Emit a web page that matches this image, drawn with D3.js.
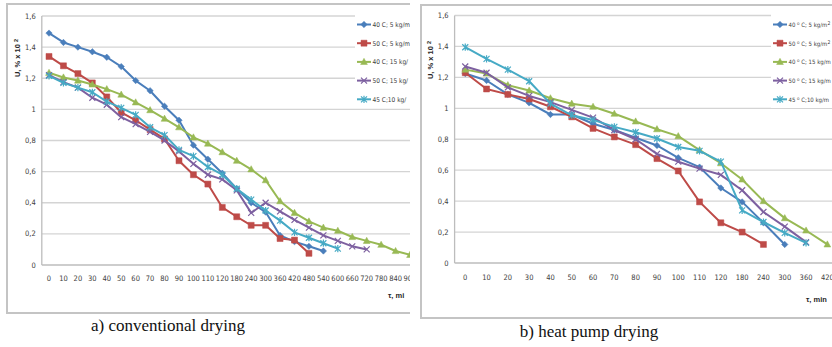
<!DOCTYPE html>
<html>
<head>
<meta charset="utf-8">
<script src="https://cdn.jsdelivr.net/npm/d3@7"></script>
<style>
    body { margin: 0; background: #fff; }
    svg { display: block; }
    .tick-label { font-family: "Liberation Sans Narrow", "DejaVu Sans", sans-serif; font-stretch: condensed; font-size: 7.5px; fill: #404040; }
    .legend-label { font-family: "Liberation Sans Narrow", "DejaVu Sans", sans-serif; font-stretch: condensed; font-size: 6.5px; fill: #404040; }
    .axis-title { font-family: "Liberation Sans", sans-serif; font-size: 7.5px; font-weight: bold; fill: #262626; }
    .caption { font-family: "Liberation Serif", "Times New Roman", serif; font-size: 17px; fill: #111; }
</style>
</head>
<body>
<svg id="chart" width="832" height="347"></svg>
<script>
/*globals d3 */

// a) conventional drying
var convTimes = [0, 10, 20, 30, 40, 50, 60, 70, 80, 90, 100, 110, 120,
    180, 240, 300, 360, 420, 480, 540, 600, 660, 720, 780, 840, 900];
var conv40c5 = [1.49, 1.43, 1.40, 1.37, 1.335, 1.275, 1.185, 1.12, 1.02, 0.93, 0.77, 0.68, 0.59,
    0.49, 0.40, 0.34, 0.19, 0.15, 0.12, 0.09];
var conv50c5 = [1.34, 1.28, 1.23, 1.17, 1.08, 0.98, 0.93, 0.87, 0.81, 0.67, 0.58, 0.52, 0.37,
    0.31, 0.255, 0.255, 0.17, 0.16, 0.075];
var conv40c15 = [1.235, 1.205, 1.185, 1.16, 1.13, 1.095, 1.045, 0.995, 0.94, 0.885, 0.82, 0.78, 0.725,
    0.67, 0.615, 0.545, 0.41, 0.335, 0.28, 0.24, 0.22, 0.18, 0.155, 0.13, 0.09, 0.065];
var conv50c15 = [1.22, 1.175, 1.14, 1.075, 1.03, 0.95, 0.905, 0.855, 0.80, 0.73, 0.65, 0.58, 0.55,
    0.48, 0.335, 0.40, 0.345, 0.29, 0.24, 0.19, 0.155, 0.12, 0.10];
var conv45c10 = [1.215, 1.17, 1.14, 1.11, 1.05, 1.01, 0.965, 0.885, 0.835, 0.74, 0.70, 0.63, 0.58,
    0.49, 0.42, 0.35, 0.285, 0.21, 0.175, 0.14, 0.105];

// b) heat pump drying
var hpTimes = [0, 10, 20, 30, 40, 50, 60, 70, 80, 90, 100, 110, 120, 180, 240, 300, 360, 420];
var hp40c5 = [1.225, 1.18, 1.09, 1.035, 0.96, 0.96, 0.90, 0.86, 0.81, 0.76, 0.68, 0.62, 0.485,
    0.395, 0.26, 0.12];
var hp50c5 = [1.23, 1.125, 1.09, 1.06, 1.01, 0.945, 0.87, 0.815, 0.765, 0.675, 0.595, 0.395, 0.26,
    0.20, 0.12];
var hp40c15 = [1.25, 1.225, 1.15, 1.115, 1.065, 1.03, 1.01, 0.965, 0.915, 0.865, 0.82, 0.73, 0.645,
    0.54, 0.40, 0.29, 0.21, 0.12];
var hp50c15 = [1.27, 1.23, 1.135, 1.08, 1.04, 0.99, 0.94, 0.86, 0.80, 0.705, 0.655, 0.61, 0.57,
    0.47, 0.33, 0.235, 0.135];
var hp45c10 = [1.395, 1.32, 1.25, 1.175, 1.03, 0.955, 0.925, 0.88, 0.845, 0.805, 0.75, 0.725, 0.655,
    0.34, 0.265, 0.195, 0.13];

var yTicks = [0, 0.2, 0.4, 0.6, 0.8, 1, 1.2, 1.4, 1.6];
// legend texts as far as the cropped original shows them
var convLegend = ["40 C; 5 kg/m", "50 C; 5 kg/m", "40 C; 15 kg/", "50 C; 15 kg/", "45 C;10 kg/"];
var hpLegend = [["40", " C; 5 kg/m", "2"], ["50", " C; 5 kg/m", "2"], ["40", " C; 15 kg/m", ""],
    ["50", " C; 15 kg/m", ""], ["45", " C;10 kg/m", ""]];
var colors = ["#4a7ebb", "#be4b48", "#98b954", "#7d60a0", "#46aac5"];
var markers = ["diamond", "square", "triangle", "times", "asterisk"];

var svg = d3.select("#chart");

function markerPath(kind) {
    var s = 3.2;
    switch (kind) {
    case "diamond":
        return "M0," + (-s) + "L" + s + ",0L0," + s + "L" + (-s) + ",0Z";
    case "square":
        return "M-3,-3H3V3H-3Z";
    case "triangle":
        return "M0,-3.6L3.4,2.6H-3.4Z";
    case "times":
        return "M-3,-3L3,3M-3,3L3,-3";
    default:
        return "M-3,-3L3,3M-3,3L3,-3M0,-3.6V3.6";
    }
}

function fmt(d) {
    return String(+d.toFixed(1)).replace(".", ",");
}

function drawPanel(cfg) {
    var g = svg.append("g"),
        clipId = "clip" + cfg.id,
        x,
        y,
        plot;

    svg.append("clipPath").attr("id", clipId)
        .append("rect")
        .attr("x", cfg.frame[0]).attr("y", cfg.frame[1])
        .attr("width", cfg.frame[2] - cfg.frame[0]).attr("height", cfg.frame[3] - cfg.frame[1]);

    g.attr("clip-path", "url(#" + clipId + ")");

    x = d3.scalePoint()
        .domain(cfg.times)
        .range([cfg.left, cfg.left + cfg.band * cfg.times.length])
        .padding(0.5);
    y = d3.scaleLinear().domain([0, 1.6]).range([cfg.bottom, cfg.top]);

    // Gridlines.
    g.selectAll(".grid")
        .data(yTicks.slice(1))
        .enter().append("line")
        .attr("x1", cfg.left).attr("x2", cfg.frame[2])
        .attr("y1", function (d) { return y(d); })
        .attr("y2", function (d) { return y(d); })
        .style("stroke", "#d4d4d4")
        .style("stroke-width", 1.3);

    // Axis lines.
    g.append("line")
        .attr("x1", cfg.left).attr("x2", cfg.frame[2])
        .attr("y1", y(0)).attr("y2", y(0))
        .style("stroke", "#bdbdbd").style("stroke-width", 1.5);
    g.append("line")
        .attr("x1", cfg.left).attr("x2", cfg.left)
        .attr("y1", y(0)).attr("y2", y(1.6))
        .style("stroke", "#bdbdbd").style("stroke-width", 1.3);

    // Tick labels.
    g.selectAll(".ylab")
        .data(yTicks)
        .enter().append("text")
        .attr("class", "tick-label")
        .attr("x", cfg.left - 6)
        .attr("y", function (d) { return y(d) + 2.5; })
        .attr("text-anchor", "end")
        .text(fmt);

    g.selectAll(".xlab")
        .data(cfg.times)
        .enter().append("text")
        .attr("class", "tick-label")
        .attr("x", function (d) { return x(d); })
        .attr("y", cfg.xLabelY)
        .attr("text-anchor", "middle")
        .text(function (d) { return d; });

    // Axis titles.
    g.append("text")
        .attr("class", "axis-title")
        .attr("transform", "translate(" + cfg.yTitleX + "," + cfg.yTitleY + ") rotate(-90)")
        .attr("text-anchor", "middle")
        .text("U, % x 10 ")
        .append("tspan").attr("dy", -2).style("font-size", "5.5px").text("2");

    g.append("text")
        .attr("class", "axis-title")
        .attr("x", cfg.xTitle[0]).attr("y", cfg.xTitle[1])
        .text(cfg.xTitleText);

    // Series.
    plot = g.append("g");
    cfg.series.forEach(function (values, k) {
        var pts = values.map(function (v, i) {
            return [x(cfg.times[i]), y(v)];
        });

        plot.append("path")
            .attr("d", d3.line()(pts))
            .style("fill", "none")
            .style("stroke", colors[k])
            .style("stroke-width", 2)
            .style("stroke-linejoin", "round");

        plot.selectAll(".m" + k)
            .data(pts)
            .enter().append("path")
            .attr("transform", function (p) { return "translate(" + p[0] + "," + p[1] + ")"; })
            .attr("d", markerPath(markers[k]))
            .style("fill", colors[k])
            .style("stroke", colors[k])
            .style("stroke-width", markers[k] === "times" || markers[k] === "asterisk" ? 1.2 : 0.5);
    });

    // Legend.
    g.append("rect")
        .attr("x", cfg.legend[0] - 2).attr("y", 14)
        .attr("width", 80).attr("height", 94)
        .style("fill", "#fff");

    cfg.legendText.forEach(function (label, k) {
        var ly = 24.5 + k * 18.7,
            lx = cfg.legend[0],
            t;

        g.append("line")
            .attr("x1", lx).attr("x2", lx + 14)
            .attr("y1", ly).attr("y2", ly)
            .style("stroke", colors[k]).style("stroke-width", 2);
        g.append("path")
            .attr("transform", "translate(" + (lx + 7) + "," + ly + ")")
            .attr("d", markerPath(markers[k]))
            .style("fill", colors[k]).style("stroke", colors[k])
            .style("stroke-width", markers[k] === "times" || markers[k] === "asterisk" ? 1.2 : 0.5);

        t = g.append("text")
            .attr("class", "legend-label")
            .attr("x", lx + 15.5).attr("y", ly + 2.4);
        if (Array.isArray(label)) {
            t.style("font-size", "6px");
            t.append("tspan").text(label[0] + " ");
            t.append("tspan").attr("dy", -2).style("font-size", "4.5px").text("o");
            t.append("tspan").attr("dy", 2).text(label[1]);
            if (label[2]) {
                t.append("tspan").attr("dy", -2).style("font-size", "5px").text(label[2]);
            }
        } else {
            t.text(label);
        }
    });

    // Panel frame.
    svg.append("path")
        .attr("d", "M" + cfg.frame[2] + "," + cfg.frame[1] + "H" + cfg.frame[0] + "V" + cfg.frame[3] + "H" + cfg.frame[2])
        .style("fill", "none")
        .style("stroke", "#c4c4c4")
        .style("stroke-width", 2);
}

drawPanel({
    id: "a",
    frame: [7, 4, 410, 313],
    left: 41.8,
    band: 14.44,
    top: 16,
    bottom: 265,
    xLabelY: 281,
    yTitleX: 19.5,
    yTitleY: 58,
    xTitle: [388, 298],
    xTitleText: "\u03c4, mi",
    times: convTimes,
    series: [conv40c5, conv50c5, conv40c15, conv50c15, conv45c10],
    legend: [357],
    legendText: convLegend
});

drawPanel({
    id: "b",
    frame: [421, 5, 834, 318],
    left: 454.6,
    band: 21.3,
    top: 15.5,
    bottom: 263,
    xLabelY: 279.5,
    yTitleX: 432.5,
    yTitleY: 60,
    xTitle: [806, 302],
    xTitleText: "\u03c4, min",
    times: hpTimes,
    series: [hp40c5, hp50c5, hp40c15, hp50c15, hp45c10],
    legend: [773],
    legendText: hpLegend
});

svg.append("text").attr("class", "caption")
    .attr("x", 168).attr("y", 331).attr("text-anchor", "middle")
    .text("a) conventional drying");
svg.append("text").attr("class", "caption")
    .attr("x", 589).attr("y", 337).attr("text-anchor", "middle")
    .text("b) heat pump drying");
</script>
</body>
</html>
